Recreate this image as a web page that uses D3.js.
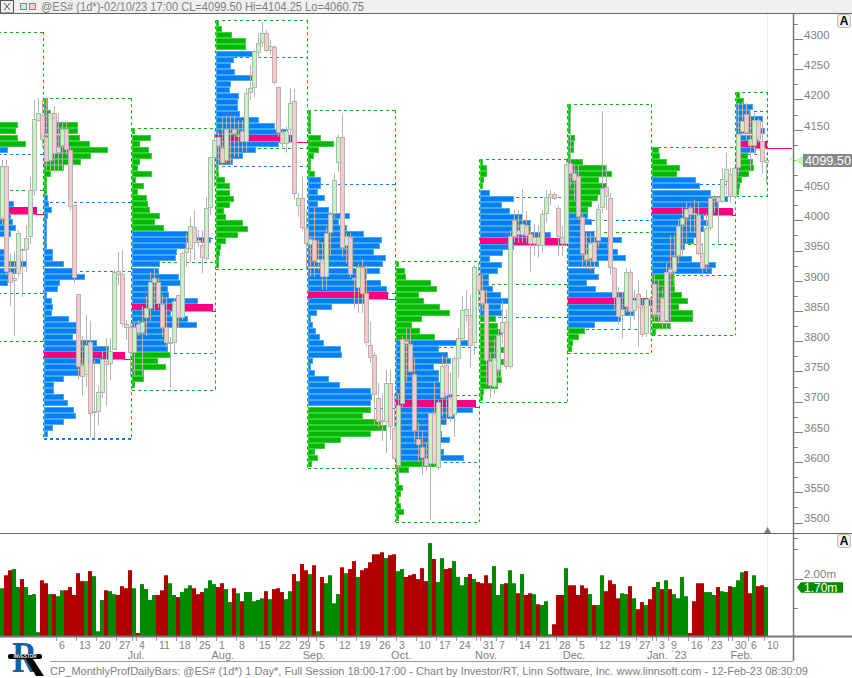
<!DOCTYPE html>
<html><head><meta charset="utf-8">
<script src="https://cdnjs.cloudflare.com/ajax/libs/d3/7.8.5/d3.min.js"></script>
<style>html,body{margin:0;padding:0;background:#fff;overflow:hidden}svg{display:block}text{font-family:"Liberation Sans",sans-serif}</style>
</head><body><svg id="c" width="852" height="678"></svg>
<script>
// [high, open, close, low] per session
const candles=[[4100,4004,4090,3992],[4100,4090,3916,3910],[3946,3915,3898,3858],[3948,3902,3905,3809],[3984,3913,3979,3906],[3954,3953,3951,3873],[3992,3953,3971,3915],[4072,3974,4050,3961],
[4199,4050,4168,4040],[4203,4166,4178,4163],[4199,4174,4135,4121],[4203,4138,4098,4083],[4183,4100,4178,4083],[4189,4178,4112,4080],[4178,4112,4121,4080],[4163,4125,4151,4080],
[4163,4151,4118,4108],[4121,4117,4025,4017],[4025,4025,3906,3896],[3878,3878,3759,3736],[3809,3761,3743,3710],[3844,3746,3794,3724],[3834,3799,3681,3642],[3769,3683,3685,3640],
[3726,3685,3716,3661],[3784,3716,3771,3706],[3805,3767,3762,3693],[3805,3764,3784,3736],[3918,3787,3915,3786],[3948,3916,3911,3893],[3951,3911,3830,3824],[3835,3829,3824,3802],
[3830,3824,3782,3741],[3830,3782,3824,3744],[3835,3829,3815,3809],[3858,3815,3832,3744],[3875,3840,3855,3809],[3915,3855,3898,3834],[3923,3898,3905,3852],[3905,3898,3863,3855],
[3877,3862,3824,3807],[3873,3824,3799,3791],[3807,3797,3799,3724],[3872,3799,3867,3781],[3877,3877,3840,3822],[3949,3840,3946,3835],[3978,3948,3954,3923],[4006,3954,3991,3931],
[4017,3989,3964,3935],[3984,3968,3964,3956],[3984,3959,3939,3913],[4039,3939,4021,3935],[4105,4022,4105,4009],[4146,4105,4133,4055],[4146,4138,4125,4078],[4171,4120,4097,4087],
[4173,4100,4151,4095],[4174,4143,4145,4088],[4174,4151,4145,4105],[4166,4140,4141,4105],[4166,4148,4131,4113],[4219,4131,4211,4113],[4257,4212,4219,4199],[4282,4221,4280,4204],
[4310,4279,4294,4269],[4328,4295,4310,4287],[4315,4310,4282,4279],[4299,4282,4289,4274],[4290,4287,4229,4224],[4221,4221,4146,4138],[4153,4146,4128,4117],[4155,4128,4148,4112],
[4219,4151,4194,4128],[4217,4198,4045,4034],[4045,4025,4037,4006],[4073,4037,3989,3984],[4017,3987,3963,3918],[3973,3961,3969,3906],[4022,3968,3935,3906],[3968,3931,3936,3918],
[3964,3936,3908,3885],[3989,3908,3979,3885],[4014,3981,4011,3943],[4078,4012,4067,4004],[4141,4097,4138,4080],[4176,4138,3956,3939],[3979,3959,3974,3929],[3979,3973,3911,3905],
[3906,3905,3903,3853],[3928,3890,3923,3847],[3936,3923,3880,3847],[3926,3880,3799,3792],[3832,3794,3774,3764],[3782,3777,3713,3662],[3731,3706,3668,3658],[3714,3670,3668,3635],
[3753,3668,3731,3615],[3753,3731,3660,3637],[3713,3657,3607,3604],[3713,3595,3695,3574],[3809,3698,3804,3691],[3820,3800,3797,3734],[3820,3796,3751,3748],[3772,3746,3653,3633],
[3666,3638,3630,3600],[3653,3625,3609,3579],[3633,3607,3595,3585],[3681,3599,3681,3504],[3734,3681,3599,3595],[3703,3592,3700,3587],[3777,3708,3759,3675],[3774,3761,3711,3662],
[3749,3708,3676,3666],[3776,3680,3772,3642],[3822,3772,3805,3739],[3875,3805,3852,3800],[3885,3843,3853,3832],[3877,3843,3794,3757],[3926,3799,3923,3777],[3930,3910,3885,3852],
[3910,3885,3863,3852],[3885,3863,3769,3728],[3781,3767,3728,3706],[3805,3726,3772,3713],[3819,3753,3810,3741],[3868,3815,3832,3797],[3852,3832,3759,3753],[3984,3759,3974,3754],
[4017,3974,4001,3963],[4017,3984,3978,3963],[4052,3978,3994,3963],[4016,3992,3976,3963],[3996,3978,3963,3915],[3994,3963,3973,3943],[3992,3973,3961,3938],[4017,3959,4011,3946],
[4050,4012,4039,3997],[4050,4039,4044,4025],[4047,4044,4037,4034],[4024,4021,3974,3941],[3991,3973,3963,3941],[4100,3963,4094,3958],[4178,4095,4079,4055],[4092,4079,4068,4034],
[4092,4073,4007,4001],[4012,4006,3946,3923],[3979,3944,3936,3921],[3979,3938,3963,3918],[3981,3964,3933,3910],[4029,3968,4019,3956],[4181,4022,4054,4012],[4092,4055,4040,4017],
[4045,4037,3923,3910],[3923,3921,3873,3852],[3890,3873,3842,3827],[3882,3843,3853,3805],[3921,3858,3915,3848],[3918,3915,3850,3819],[3885,3852,3868,3835],[3901,3878,3857,3791],
[3872,3857,3812,3807],[3885,3814,3870,3807],[3873,3872,3870,3810],[3910,3895,3845,3830],[3901,3845,3848,3830],[3888,3872,3834,3822],[3930,3835,3915,3819],[3976,3920,3915,3819],
[3976,3916,3939,3890],[4001,3943,3991,3929],[4022,3994,4004,3939],[4029,4006,4019,3963],[4025,4021,4011,3979],[4034,4012,4011,3979],[4030,4009,3946,3943],[3963,3946,3921,3905],
[4012,3928,3987,3915],[4040,3989,4037,3984],[4042,4037,4039,4012],[4040,4039,4032,3963],[4087,4032,4068,4029],[4112,4065,4085,4042],[4087,4077,4040,4029],[4088,4040,4087,4039],
[4194,4088,4143,4075],[4196,4148,4164,4141],[4194,4176,4146,4133],[4183,4135,4125,4080],[4178,4125,4166,4108],[4169,4166,4135,4128],[4163,4131,4098,4078],[4104.25,4096,4099.5,4060.75]];

// session volume, millions
const volumes=[1.67,2.11,2.28,2.32,1.71,1.98,1.71,1.44,1.47,.18,1.94,1.84,1.47,1.47,1.40,1.60,1.60,1.71,1.44,2.18,1.91,1.91,2.25,2.08,.21,1.27,1.60,1.57,1.47,1.44,1.74,1.67,2.28,1.67,.15,1.81,1.64,1.27,1.44,1.44,1.60,2.11,1.84,1.44,1.37,1.54,1.67,1.77,1.67,1.47,1.54,1.67,1.94,1.81,1.71,1.84,1.64,1.20,1.67,1.50,1.23,1.54,1.54,1.23,1.27,1.33,1.57,1.30,1.64,1.67,1.54,1.30,1.57,2.15,1.91,2.49,2.28,2.15,2.45,.21,2.05,1.84,2.11,1.16,1.47,2.38,2.18,2.32,2.59,2.05,2.28,2.35,2.55,2.82,2.82,2.89,2.69,2.79,2.82,2.25,2.32,2.05,2.11,2.15,1.98,2.35,1.91,
3.20,2.66,1.88,2.69,2.32,2.35,2.59,2.05,1.77,2.05,2.15,1.98,1.88,1.84,2.11,1.84,2.42,1.44,1.81,1.84,2.28,1.84,1.50,2.15,1.44,1.50,1.47,1.13,1.10,1.23,.11,.45,1.44,1.44,2.35,1.77,1.77,1.44,1.77,1.67,1.47,1.10,1.10,2.11,1.57,1.94,1.81,1.33,1.50,1.47,1.74,1.33,.96,1.20,1.10,1.30,1.71,1.88,1.64,1.94,1.64,1.47,1.33,2.05,1.40,.15,1.23,1.84,1.84,1.54,1.54,1.44,1.71,1.57,1.54,1.74,1.71,1.94,2.21,2.25,1.50,2.11,1.74,1.77,1.71];

// monthly profiles
const months=["May","Jun","Jul","Aug","Sep","Oct","Nov","Dec","Jan","Feb"];
const monthStart=[-11,11,33,54,77,99,120,142,163,184];
const monthEnd=[11,33,54,77,99,120,142,163,184,192];
const boxHigh=[4312,4202,4152,4331,4182,3932,4101,4192,4121,4212];
const boxLow=[3800,3639,3720,3920,3590,3501,3700,3781,3810,4040];
const boxMid=[4050,3916,3931,4120,3880,3711,3895,3981,3961,null];
const vaHigh=[4110,4030,3971,4270,4060,3791,4039,4001,4060,4181];
const vaLow=[3880,3640,3780,4090,3690,3600,3840,3820,3910,4110];
const rowsFirstPrice=[4162,4202,4152,4331,4182,3932,4101,4192,4121,4212];
const vaFirstRow=[4,16,17,5,11,13,5,18,5,2];
const vaLastRow=[99,99,36,23,48,32,25,36,20,9];
const pocRow=[14,42,29,19,30,23,13,32,10,8];
const profileRows=[
 [61,59,61,69,51,30,30,30,30,30,30,30,30,57,80,54,56,59,54,30,30,49,50,70,61,54,51],
 [3,3,6,6,33,33,35,45,63,46,36,19,6,2,2,2,3,4,7,3,2,2,2,2,2,8,8,19,29,40,15,13,2,7,8,7,24,34,34,28,52,64,80,56,39,36,19,9,9,19,23,29,31,19,8,3],
 [2,18,7,16,19,7,5,19,3,11,5,14,15,17,27,22,31,56,78,53,44,43,27,26,46,48,35,36,65,80,38,55,64,35,35,35,35,38,25,33,11,11,2],
 [2,5,15,29,29,36,17,14,18,36,14,13,22,21,21,23,42,58,71,76,62,39,26,16,2,2,8,13,13,17,13,7,9,26,31,21,9,4,3,2,2],
 [2,2,2,2,12,25,10,5,2,2,6,12,12,9,16,9,20,41,30,38,55,73,71,65,77,74,71,58,72,78,79,60,23,8,2,4,7,11,15,32,33,4,2,6,20,31,62,63,62,62,54,72,78,62,32,16,6,9,3],
 [2,8,9,34,40,22,27,43,53,25,15,23,38,71,42,51,54,37,42,42,47,52,57,79,76,58,50,44,45,53,37,47,67,42,12,2,2,6,4,2,4,7,2],
 [2,6,6,3,2,9,33,21,29,42,50,50,70,87,33,22,9,21,17,8,8,12,20,28,20,21,15,17,22,17,17,23,20,23,20,20,21,17,3,2],
 [2,2,2,2,2,6,5,5,2,14,37,43,30,38,32,29,23,19,19,23,16,26,53,39,49,57,30,26,30,18,27,56,83,59,65,52,26,16,10,4,3],
 [6,7,14,27,24,43,47,58,75,65,80,51,55,51,44,41,32,28,39,63,59,21,21,22,29,35,26,40,40,18,3],
 [3,7,16,13,26,24,28,21,30,19,11,16,17,12,5,3,2]];

const priceTicks=d3.range(3500,4301,50);
const priceMinorTicks=d3.range(3475,4326,50);
const dayTicks=[14,19,24,29,34,39,44,49,54,59,64,69,74,79,84,89,94,99,104,109,114,120,124,129,134,139,144,149,154,159,164,167,172,177,183,187,191];
const dayLabels=["6","13","20","27","4","11","18","25","1","8","15","22","29","5","12","19","26","3","10","17","24","31","7","14","21","28","5","12","19","27","3","9","16","23","30","6","10"];
const monthTicks=[33,77,119,163,182];
const monthLabels=["Jul.","Aug.","Sep.","Oct.","Nov.","Dec.","Jan. `23","Feb."];
const monthLabelBars=[34,55.7,78.5,100.3,121.5,143.5,166.7,185.4];
const volumeTicks=[1,2,3];
const lastVolume=1.70, lastPrice=4099.5;

const GRAY="#808080",GREEN="#00b800",GREENL="#3ad03a",BLUE="#0080ff",BLUEL="#48a8e8",POC="#ff0080";
const svg=d3.select("#c");
const W=852,AX=793;
const x=d3.scaleLinear().domain([0,192]).range([0,768]);
const y=d3.scaleLinear().domain([3500,4300]).range([522.56,39.04]);
const rowH=y(4000)-y(4010);
const vy=d3.scaleLinear().domain([0,3.2]).range([637.5,543.1]);
const defs=svg.append("defs");
defs.append("clipPath").attr("id","main").append("rect").attr("x",0).attr("y",14).attr("width",AX).attr("height",519);
defs.append("clipPath").attr("id","vol").append("rect").attr("x",0).attr("y",534).attr("width",AX).attr("height",102);

// faint last-bar line
svg.append("line").attr("x1",767.5).attr("x2",767.5).attr("y1",14).attr("y2",636).attr("stroke","#ececec");

const g=svg.append("g").attr("clip-path","url(#main)");
const dash=(sel,col)=>sel.attr("stroke",col).attr("stroke-width",1).attr("stroke-dasharray","3,3").attr("fill","none");
const hl=(p,a,b,col)=>dash(g.append("line").attr("x1",x(a)).attr("x2",x(b)).attr("y1",Math.round(y(p))+.5).attr("y2",Math.round(y(p))+.5),col);

months.forEach((m,k)=>{
  const a=monthStart[k],b=monthEnd[k];
  hl(vaHigh[k],a,b,BLUE);hl(vaLow[k],a,b,BLUE);
  hl(boxHigh[k],a,b,GREEN);hl(boxLow[k],a,b,GREEN);
  if(boxMid[k]!==null)hl(boxMid[k],a,b,GREEN);
  [a,b].forEach(e=>dash(g.append("line").attr("x1",x(e)-.5).attr("x2",x(e)-.5).attr("y1",y(boxHigh[k])).attr("y2",y(boxLow[k])),GREEN));
});
months.forEach((m,k)=>{
  const a=monthStart[k],b=monthEnd[k],top=y(rowsFirstPrice[k]);
  g.append("g").selectAll("rect").data(profileRows[k]).join("rect")
   .attr("x",x(a)+.5).attr("y",(d,i)=>Math.round(top+i*rowH)+.5)
   .attr("width",d=>d).attr("height",(d,i)=>i===pocRow[k]?6.5:Math.round(rowH)-1)
   .attr("fill",(d,i)=>i===pocRow[k]?POC:(i>=vaFirstRow[k]&&i<=vaLastRow[k]?BLUE:GREEN))
   .attr("stroke",(d,i)=>i===pocRow[k]?POC:(i>=vaFirstRow[k]&&i<=vaLastRow[k]?BLUEL:GREENL));
  const py=Math.round(top+pocRow[k]*rowH)+7.5;
  g.append("line").attr("x1",x(a)+profileRows[k][pocRow[k]]).attr("x2",k===months.length-1?792:x(b)).attr("y1",py).attr("y2",py).attr("stroke",POC).attr("stroke-width",1);
});

// candles
const cg=g.append("g");
cg.selectAll("line").data(candles).join("line")
  .attr("x1",(d,i)=>x(i)+2.5).attr("x2",(d,i)=>x(i)+2.5).attr("y1",d=>y(d[0])).attr("y2",d=>y(d[3]))
  .attr("stroke","#b4b4b4").attr("stroke-width",1);
cg.selectAll("rect").data(candles).join("rect")
  .attr("x",(d,i)=>x(i)+.5).attr("width",4)
  .attr("y",d=>Math.round(y(Math.max(d[1],d[2])))+.5)
  .attr("height",d=>Math.max(1,Math.round(y(Math.min(d[1],d[2]))-y(Math.max(d[1],d[2])))))
  .attr("fill",d=>d[2]>=d[1]?"#bff8bf":"#ffc8c8").attr("stroke","#b4b4b4").attr("stroke-width",1);

// volume
svg.append("g").attr("clip-path","url(#vol)").selectAll("rect").data(volumes).join("rect")
  .attr("x",(d,i)=>x(i)).attr("width",4).attr("y",d=>vy(d)).attr("height",d=>vy(0)-vy(d))
  .attr("fill",(d,i)=>candles[i][2]>=candles[i][1]?"#008a00":"#b00000");

// frame
const line=(x1,y1,x2,y2,c,w)=>svg.append("line").attr("x1",x1).attr("y1",y1).attr("x2",x2).attr("y2",y2).attr("stroke",c||GRAY).attr("stroke-width",w||1);
svg.append("rect").attr("x",0).attr("y",0).attr("width",W).attr("height",13).attr("fill","#f0f0f0");
line(0,13.5,W,13.5,"#666");
line(0,533.5,W,533.5,"#666");
line(0,636.5,W,636.5,"#777",2);
line(AX+.5,13,AX+.5,661,"#777",1.5);
line(50,661.5,AX,661.5,"#999");

// header
svg.append("rect").attr("x",.5).attr("y",.5).attr("width",13).attr("height",12.5).attr("fill","#f0f0f0").attr("stroke","#555");
line(4,3,10,10,"#555");line(10,3,4,10,"#555");
svg.append("rect").attr("x",20.5).attr("y",3.5).attr("width",6).attr("height",6).attr("fill","#bff8bf").attr("stroke","#888");
svg.append("rect").attr("x",29.5).attr("y",3.5).attr("width",6).attr("height",6).attr("fill","#ffc8c8").attr("stroke","#888");
svg.append("text").attr("x",41).attr("y",10.5).attr("font-size",12).attr("fill",GRAY).attr("textLength",323).attr("lengthAdjust","spacingAndGlyphs")
  .text("@ES# (1d*)-02/10/23 17:00 CL=4099.50 Hi=4104.25 Lo=4060.75");

// price axis
priceTicks.forEach(p=>{line(AX,Math.round(y(p))+.5,803,Math.round(y(p))+.5);
  if(p!==4100)svg.append("text").attr("x",804).attr("y",y(p)-.2).attr("font-size",11.5).attr("fill",GRAY).text(p);});
priceMinorTicks.forEach(p=>line(AX,Math.round(y(p))+.5,798,Math.round(y(p))+.5));

// current price
svg.append("path").attr("d",d3.line()([[795,160.5],[803,155.5],[803,166]])).attr("fill","#bff8bf");
svg.append("path").attr("d",d3.line()([[789,158],[793,158],[793,163]])).attr("fill","#bff8bf");
svg.append("rect").attr("x",803).attr("y",154).attr("width",49).attr("height",13).attr("fill","#888");
svg.append("text").attr("x",805).attr("y",165).attr("font-size",13).attr("fill","#fff").attr("textLength",46).attr("lengthAdjust","spacingAndGlyphs").text(d3.format(".2f")(lastPrice));

// last-bar marker
svg.append("path").attr("d",d3.line()([[764,533],[767.5,527],[771,533]])).attr("fill","#808080");

// A buttons
[14,534].forEach(t=>{svg.append("rect").attr("x",837.5).attr("y",t+.5).attr("width",13).attr("height",13).attr("rx",2.5).attr("fill","#f0f0f0").attr("stroke","#bbb");
 svg.append("text").attr("x",844).attr("y",t+11).attr("text-anchor","middle").attr("font-size",12).attr("font-weight","bold").attr("fill","#000").text("A");});

// volume axis
volumeTicks.forEach(v=>line(AX,Math.round(vy(v))+.5,v===2?803:798,Math.round(vy(v))+.5));
svg.append("text").attr("x",804).attr("y",578).attr("font-size",11.5).attr("fill",GRAY).text("2.00m");
const ly=vy(lastVolume);
svg.append("path").attr("d",d3.line()([[797,ly],[801,ly-5],[843,ly-5],[843,ly+5.5],[801,ly+5.5]])).attr("fill","#008a00");
svg.append("text").attr("x",804).attr("y",ly+4.5).attr("font-size",12).attr("fill","#fff").text("1.70m");

// day axis
dayTicks.forEach((d,i)=>{line(x(d)+.5,637,x(d)+.5,641,"#999");
 svg.append("text").attr("x",x(d)+3).attr("y",648.5).attr("font-size",10.5).attr("fill",GRAY).text(dayLabels[i]);});
monthTicks.forEach(d=>line(x(d)+.5,637,x(d)+.5,641,"#999"));
monthLabels.forEach((m,i)=>svg.append("text").attr("x",x(monthLabelBars[i])).attr("y",659).attr("text-anchor","middle").attr("font-size",11).attr("fill",GRAY).text(m));

// footer
svg.append("text").attr("x",50).attr("y",675).attr("font-size",11).attr("fill",GRAY).attr("textLength",758).attr("lengthAdjust","spacingAndGlyphs")
 .text("CP_MonthlyProfDailyBars: @ES# (1d*) 1 Day*, Full Session 18:00-17:00 - Chart by Investor/RT, Linn Software, Inc. www.linnsoft.com - 12-Feb-23 08:30:09");

// logo
const logo=svg.append("g");
logo.append("text").attr("x",12).attr("y",672).attr("textLength",25).attr("lengthAdjust","spacingAndGlyphs").attr("font-size",44).attr("font-weight","bold").attr("style","font-family:'Liberation Serif',serif").attr("fill","#1060a8").text("R");
logo.append("path").attr("d","M24 656L31 656L44 676L36 676Z").attr("fill","#000");
logo.append("rect").attr("x",8).attr("y",654).attr("width",34).attr("height",5).attr("rx",2).attr("fill","#000");
logo.append("text").attr("x",25).attr("y",658.2).attr("text-anchor","middle").attr("font-size",4.5).attr("font-weight","bold").attr("fill","#fff").text("INVESTOR");
</script></body></html>
